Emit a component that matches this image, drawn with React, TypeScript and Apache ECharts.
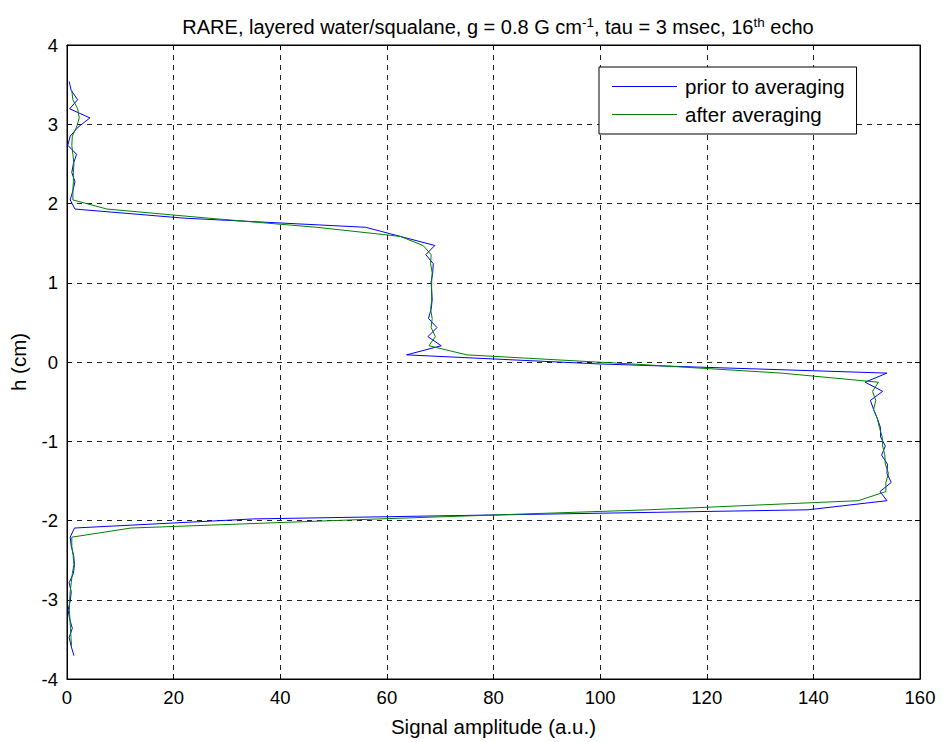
import React, { useEffect, useRef } from "react";
import * as echarts from "echarts";

const heights = [
  3.54, 3.425, 3.31, 3.195, 3.08, 2.965, 2.85, 2.735, 2.62, 2.505,
  2.39, 2.275, 2.16, 2.045, 1.93, 1.815, 1.7, 1.585, 1.47, 1.355,
  1.24, 1.125, 1.01, 0.895, 0.78, 0.665, 0.55, 0.435, 0.32, 0.205,
  0.09, -0.025, -0.14, -0.255, -0.37, -0.485, -0.6, -0.715, -0.83, -0.945,
  -1.06, -1.175, -1.29, -1.405, -1.52, -1.635, -1.75, -1.865, -1.98, -2.095,
  -2.21, -2.325, -2.44, -2.555, -2.67, -2.785, -2.9, -3.015, -3.13, -3.245,
  -3.36, -3.475, -3.59, -3.705,
];

// prior to averaging: one value per height
const priorValues = [
  0.4, 0.8, 2.0, 0.5, 4.3, 2.1, 0.6, 0.15, 1.8, 1.2,
  0.9, 1.5, 1.1, 0.6, 1.5, 22, 56, 62.5, 69.0, 67.3,
  68.7, 68.6, 68.3, 68.4, 68.5, 68.3, 67.8, 69.4, 67.7, 70.2,
  63.7, 100, 153.8, 149.7, 153.0, 150.7, 151.3, 152.0, 152.6, 152.6,
  153.5, 152.8, 153.9, 153.8, 154.6, 152.5, 153.8, 139, 35, 1.4,
  0.6, 0.8, 1.25, 1.4, 1.2, 0.4, 0.8, 0.6, 0.2, 0.5,
  1.0, 0.4, 0.8, 1.3,
];

// after averaging: heights[1] .. heights[62]
const afterValues = [
  0.9, 1.1, 2.0, 2.3, 1.8, 1.0, 0.9, 1.1, 1.3, 1.2,
  1.2, 1.1, 1.1, 7.5, 26.5, 46.8, 62.5, 66.8, 68.3, 68.2,
  68.5, 68.4, 68.4, 68.4, 68.2, 68.5, 68.3, 69.1, 67.9, 75,
  106, 134, 152.2, 151.1, 151.7, 151.3, 152.0, 152.4, 152.9, 153.0,
  153.4, 153.5, 154.1, 153.6, 153.6, 148.4, 109, 58.5, 12, 0.9,
  0.9, 1.15, 1.3, 1.0, 0.8, 0.6, 0.5, 0.45, 0.55, 0.65,
  0.75, 0.85,
];

const seriesNames = ["prior to averaging", "after averaging"];
const FONT = "'Liberation Sans', Arial, sans-serif";

export default function App() {
  const ref = useRef<HTMLDivElement>(null);
  useEffect(() => {
    if (!ref.current) return;
    const chart = echarts.init(ref.current, undefined, { renderer: "svg" });
    const priorData = heights.map((h, i) => [priorValues[i], h]);
    const afterData = afterValues.map((v, i) => [v, heights[i + 1]]);
    const gridLine = {
      show: true,
      lineStyle: { color: "#222", width: 1, type: [5, 5] as any },
    };
    const tick = { show: true, inside: true, length: 5, lineStyle: { color: "#000" } };
    chart.setOption({
      animation: false,
      backgroundColor: "#fff",
      title: {
        text: "{a|RARE, layered water/squalane, g = 0.8 G cm}{s|-1}{a|, tau = 3 msec, 16}{s|th}{a| echo}",
        left: 493,
        textAlign: "center",
        top: 10,
        textStyle: {
          fontWeight: "normal",
          rich: {
            a: { fontFamily: FONT, fontSize: 20, fontWeight: "normal", color: "#000", lineHeight: 24 },
            s: { fontFamily: FONT, fontSize: 13.5, fontWeight: "normal", color: "#000", verticalAlign: "top", lineHeight: 24, padding: [0, 0, 12, 0] },
          },
        },
      },
      legend: {
        data: seriesNames,
        orient: "vertical",
        left: 599,
        top: 67,
        itemWidth: 65,
        itemHeight: 1,
        icon: "rect",
        itemGap: 7,
        padding: [9, 12, 9, 13],
        borderColor: "#000",
        borderWidth: 1,
        backgroundColor: "#fff",
        textStyle: { fontFamily: FONT, fontSize: 20.5, color: "#000", padding: [0, 0, 0, 3] },
      },
      grid: {
        left: 67,
        right: 23,
        top: 45,
        bottom: 55,
        show: true,
        borderColor: "#000",
        borderWidth: 1,
      },
      xAxis: [
        {
          type: "value",
          min: 0,
          max: 160,
          interval: 20,
          position: "bottom",
          name: "Signal amplitude (a.u.)",
          nameLocation: "middle",
          nameGap: 37,
          nameTextStyle: { fontFamily: FONT, fontSize: 20.5, color: "#000" },
          axisLine: { show: true, onZero: false, lineStyle: { color: "#000" } },
          axisTick: tick,
          axisLabel: { fontFamily: FONT, fontSize: 18.5, color: "#000", margin: 9 },
          splitLine: gridLine,
        },
        {
          type: "value",
          min: 0,
          max: 160,
          interval: 20,
          position: "top",
          axisLine: { show: true, onZero: false, lineStyle: { color: "#000" } },
          axisTick: tick,
          axisLabel: { show: false },
          splitLine: { show: false },
        },
      ],
      yAxis: [
        {
          type: "value",
          min: -4,
          max: 4,
          interval: 1,
          position: "left",
          name: "h (cm)",
          nameLocation: "middle",
          nameGap: 38,
          nameRotate: 90,
          nameTextStyle: { fontFamily: FONT, fontSize: 20.5, color: "#000" },
          axisLine: { show: true, onZero: false, lineStyle: { color: "#000" } },
          axisTick: tick,
          axisLabel: { fontFamily: FONT, fontSize: 18.5, color: "#000", margin: 9 },
          splitLine: gridLine,
        },
        {
          type: "value",
          min: -4,
          max: 4,
          interval: 1,
          position: "right",
          axisLine: { show: true, onZero: false, lineStyle: { color: "#000" } },
          axisTick: tick,
          axisLabel: { show: false },
          splitLine: { show: false },
        },
      ],
      series: [
        {
          name: seriesNames[0],
          type: "line",
          data: priorData,
          showSymbol: false,
          symbol: "none",
          lineStyle: { color: "#0000ff", width: 1 },
          itemStyle: { color: "#0000ff" },
          z: 3,
        },
        {
          name: seriesNames[1],
          type: "line",
          data: afterData,
          showSymbol: false,
          symbol: "none",
          lineStyle: { color: "#008000", width: 1 },
          itemStyle: { color: "#008000" },
          z: 4,
        },
      ],
    });
    return () => chart.dispose();
  }, []);
  return (
    <div
      ref={ref}
      style={{ position: "absolute", left: 0, top: 0, width: 943, height: 742 }}
    />
  );
}
